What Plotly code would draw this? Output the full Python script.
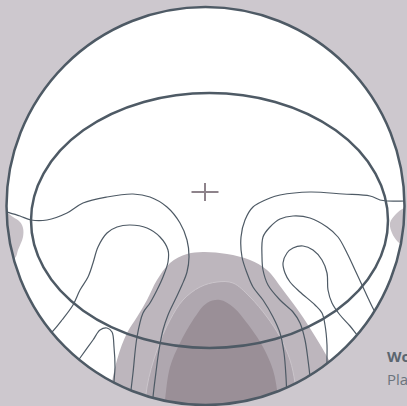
import numpy as np
import plotly.graph_objects as go

BG = "#cdc8ce"
LINE = "#4e5a65"

# --- data (in the chart's own 0..407 x 0..406 units) ---
circle_center = (205.5, 206.0)
circle_radius = 199.0
ellipse_box = (31.0, 93.0, 388.0, 348.0)   # x0, y0, x1, y1
plus_center = (205.0, 192.0)

# filled levels
level1_x = [105, 117, 127, 137, 147, 157, 170, 187, 203, 227, 250, 267, 283, 300, 313, 325, 335, 330, 205, 100]
level1_y = [420, 360, 333, 317, 300, 280, 263, 254, 252, 254, 260, 270, 290, 313, 333, 353, 375, 420, 430, 420]
level2_x = [145, 147, 157, 170, 183, 200, 217, 233, 250, 267, 280, 290, 295, 298, 220]
level2_y = [420, 387, 350, 320, 300, 287, 282, 283, 297, 317, 337, 360, 383, 420, 430]
level3_x = [163, 165, 170, 180, 193, 207, 220, 233, 250, 263, 273, 278, 280, 220]
level3_y = [420, 400, 367, 343, 320, 303, 300, 307, 327, 347, 370, 397, 420, 430]
edge_left_x = [0, 7, 13, 20, 23, 23, 18, 15, 0]
edge_left_y = [212, 213, 217, 222, 228, 237, 250, 258, 262]
edge_right_x = [410, 404, 396, 390, 392, 398, 405, 410]
edge_right_y = [206, 208, 214, 223, 233, 242, 246, 248]

# contour lines
line_a_x = [0, 7, 20, 31, 47, 67, 83, 107, 133, 150, 167, 180, 187, 189, 187, 182, 175, 168, 163, 159, 156, 153, 152]
line_a_y = [210, 212, 216, 220, 220, 213, 203, 197, 194, 197, 207, 223, 240, 257, 272, 285, 300, 315, 330, 350, 372, 397, 410]
line_b_x = [45, 52, 62, 73, 80, 88, 93, 98, 107, 117, 130, 147, 160, 168, 168, 163, 157, 150, 143, 137, 133, 131, 130]
line_b_y = [338, 332, 320, 305, 290, 277, 263, 247, 233, 227, 225, 228, 237, 250, 262, 277, 290, 303, 313, 337, 373, 390, 400]
line_c_x = [75, 80, 93, 100, 107, 112, 114, 115, 114, 114]
line_c_y = [365, 358, 340, 330, 328, 332, 347, 367, 382, 392]
line_d_x = [410, 405, 387, 380, 370, 343, 310, 280, 270, 253, 245, 241, 242, 247, 253, 263, 273, 280, 284, 286, 287]
line_d_y = [201, 201, 201, 200, 196, 194, 192, 195, 198, 207, 220, 237, 257, 273, 287, 300, 317, 333, 353, 377, 400]
line_e_x = [311, 310, 308, 305, 300, 293, 280, 268, 263, 262, 263, 270, 280, 293, 310, 327, 338, 347, 355, 362, 368, 375, 382]
line_e_y = [390, 377, 360, 340, 323, 312, 300, 285, 270, 257, 237, 227, 219, 216, 218, 227, 237, 253, 270, 285, 298, 312, 322]
line_f_x = [328, 327, 327, 325, 322, 315, 300, 290, 285, 283, 287, 293, 303, 313, 322, 327, 328, 332, 340, 350, 358, 364]
line_f_y = [375, 363, 345, 325, 313, 305, 292, 282, 273, 263, 253, 248, 246, 250, 260, 273, 290, 303, 315, 326, 336, 342]

texts = ["World", "Plates"]

fig = go.Figure()

def region(xs, ys, color, edge=None):
    fig.add_trace(go.Scatter(
        x=xs, y=ys, mode="lines", fill="toself", fillcolor=color,
        line=dict(color=edge or color, width=1 if edge else 0, shape="spline", smoothing=1.0),
        hoverinfo="skip", showlegend=False))

region(edge_left_x, edge_left_y, "#c8c2c8")
region(edge_right_x, edge_right_y, "#c8c2c8")
region(level1_x, level1_y, "#bdb6bd")
region(level2_x, level2_y, "#afa7af", edge="#cbc5cb")
region(level3_x, level3_y, "#9a8f97")

for lx, ly in [(line_a_x, line_a_y), (line_b_x, line_b_y), (line_c_x, line_c_y),
               (line_d_x, line_d_y), (line_e_x, line_e_y), (line_f_x, line_f_y)]:
    fig.add_trace(go.Scatter(x=lx, y=ly, mode="lines",
                             line=dict(color=LINE, width=1.2, shape="spline", smoothing=1.0),
                             hoverinfo="skip", showlegend=False))

# plus marker
px, py = plus_center
fig.add_trace(go.Scatter(x=[px - 13.5, px + 13.5, None, px, px], y=[py, py, None, py - 9, py + 9],
                         mode="lines", line=dict(color="#8e838b", width=2),
                         hoverinfo="skip", showlegend=False))

# mask outside the circle (rectangle with circular hole)
cx, cy = circle_center
t = np.linspace(np.pi, 3 * np.pi, 721)
mx = list(cx + circle_radius * np.cos(t)) + [-60, -60, 470, 470, -60, -60, cx - circle_radius]
my = list(cy + circle_radius * np.sin(t)) + [cy, 470, 470, -60, -60, cy, cy]
fig.add_trace(go.Scatter(x=mx, y=my, mode="lines", fill="toself", fillcolor=BG,
                         line=dict(width=0, color=BG), hoverinfo="skip", showlegend=False))

fig.add_shape(type="circle", xref="x", yref="y",
              x0=cx - circle_radius, y0=cy - circle_radius, x1=cx + circle_radius, y1=cy + circle_radius,
              fillcolor="white", line=dict(width=0), layer="below")
fig.add_shape(type="circle", xref="x", yref="y",
              x0=cx - circle_radius, y0=cy - circle_radius, x1=cx + circle_radius, y1=cy + circle_radius,
              line=dict(color=LINE, width=2.5), layer="above")
ex0, ey0, ex1, ey1 = ellipse_box
fig.add_shape(type="circle", xref="x", yref="y", x0=ex0, y0=ey0, x1=ex1, y1=ey1,
              line=dict(color=LINE, width=2.5), layer="above")

fig.add_annotation(x=385, y=356, xref="x", yref="y", text="<b>" + texts[0] + "</b>", showarrow=False,
                   xanchor="left", yanchor="middle", font=dict(family="Open Sans", size=15, color="#5b6670"))
fig.add_annotation(x=385, y=379, xref="x", yref="y", text=texts[1], showarrow=False,
                   xanchor="left", yanchor="middle", font=dict(family="Open Sans", size=15, color="#6b747d"))

fig.update_xaxes(range=[0, 407], visible=False, fixedrange=True)
fig.update_yaxes(range=[406, 0], visible=False, fixedrange=True)
fig.update_layout(width=407, height=406, margin=dict(l=0, r=0, t=0, b=0),
                  paper_bgcolor=BG, plot_bgcolor=BG)
fig.write_html("out.html", config={"displayModeBar": False},
               post_script="document.body.style.margin='0';document.body.style.overflow='hidden';"
                           "document.body.style.background='" + BG + "';")
